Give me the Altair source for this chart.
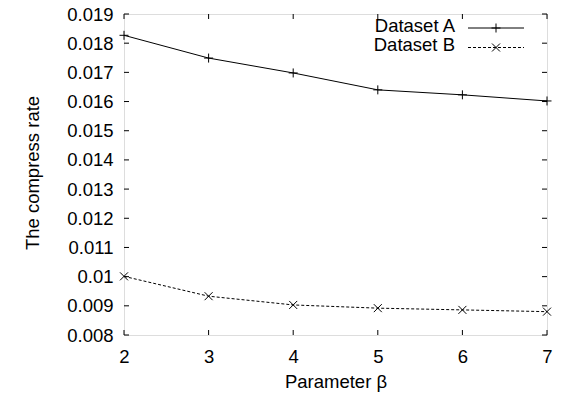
import altair as alt
import pandas as pd

# ---- data ----
beta = [2, 3, 4, 5, 6, 7]
dataset_a = [0.01827, 0.01749, 0.01698, 0.01640, 0.01623, 0.01602]
dataset_b = [0.01001, 0.00933, 0.00903, 0.00892, 0.00886, 0.00880]
series_names = ["Dataset A", "Dataset B"]
y_ticks = [0.008, 0.009, 0.010, 0.011, 0.012, 0.013, 0.014, 0.015,
           0.016, 0.017, 0.018, 0.019]
x_ticks = [2, 3, 4, 5, 6, 7]

W, H = 423, 321
FONT = "Liberation Sans"
FS = 18.5
PLUS = "M-1,0H1M0,-1V1"
CROSS = "M-1,-1L1,1M-1,1L1,-1"

df = pd.DataFrame({
    "beta": beta * 2,
    "rate": dataset_a + dataset_b,
    "series": [series_names[0]] * len(beta) + [series_names[1]] * len(beta),
})
df_a = df[df.series == series_names[0]]
df_b = df[df.series == series_names[1]]

xscale = alt.Scale(domain=[2, 7], nice=False, zero=False)
yscale = alt.Scale(domain=[0.008, 0.019], nice=False, zero=False)

xaxis = alt.Axis(values=x_ticks, format="d", title="Parameter β",
                 grid=False, ticks=False, tickSize=0, domain=False,
                 labelPadding=27, labelBaseline="alphabetic",
                 labelFontSize=FS, labelFont=FONT, labelOverlap=False,
                 labelColor="black", titleFontSize=FS, titleFont=FONT,
                 titleFontWeight="normal", titleColor="black",
                 titleX=W / 2, titleY=52, titleBaseline="alphabetic",
                 labelFlush=False)
yaxis = alt.Axis(values=y_ticks, format=".3~f", title="The compress rate",
                 grid=False, ticks=False, tickSize=0, domain=False,
                 labelPadding=11, labelFontSize=FS, labelFont=FONT,
                 labelOverlap=False, labelBound=False,
                 labelColor="black", titleFontSize=FS, titleFont=FONT,
                 titleFontWeight="normal", titleColor="black",
                 titleX=-92, titleY=H / 2 - 2, titleBaseline="middle",
                 titleAngle=-90, labelFlush=False)

xenc = alt.X("beta:Q", scale=xscale, axis=xaxis)
yenc = alt.Y("rate:Q", scale=yscale, axis=yaxis)

line_a = alt.Chart(df_a).mark_line(color="black", strokeWidth=1).encode(x=xenc, y=yenc)
line_b = alt.Chart(df_b).mark_line(color="black", strokeWidth=1, strokeDash=[3, 2]).encode(
    x=xenc, y=yenc)
pts_a = alt.Chart(df_a).mark_point(shape=PLUS, size=81, filled=False, stroke="black",
                                   strokeWidth=1, opacity=1).encode(x=xenc, y=yenc)
pts_b = alt.Chart(df_b).mark_point(shape=CROSS, size=64, filled=False, stroke="black",
                                   strokeWidth=1, opacity=1).encode(x=xenc, y=yenc)

# inward mirrored ticks (same fields/axes so the shared axes merge cleanly)
yt = pd.DataFrame({"rate": y_ticks})
xt = pd.DataFrame({"beta": x_ticks})
TL = 5
tick_layers = [
    alt.Chart(yt).mark_rule(color="black", strokeWidth=1).encode(
        y=yenc, x=alt.value(0), x2=alt.value(TL)),
    alt.Chart(yt).mark_rule(color="black", strokeWidth=1).encode(
        y=yenc, x=alt.value(W), x2=alt.value(W - TL)),
    alt.Chart(xt).mark_rule(color="black", strokeWidth=1).encode(
        x=xenc, y=alt.value(H), y2=alt.value(H - TL)),
    alt.Chart(xt).mark_rule(color="black", strokeWidth=1).encode(
        x=xenc, y=alt.value(0), y2=alt.value(TL)),
]

# legend (top right, inside the frame)
legend_layers = []
text_rows = [12, 31]
sample_rows = [14, 33.5]
shapes = [(PLUS, 81, None), (CROSS, 64, [3, 2])]
for name, ty, sy, (shp, sz, dash) in zip(series_names, text_rows, sample_rows, shapes):
    ld = pd.DataFrame({"label": [name]})
    legend_layers.append(alt.Chart(ld).mark_text(
        align="right", baseline="middle", font=FONT, fontSize=FS, color="black").encode(
        x=alt.value(331), y=alt.value(ty), text="label:N"))
    rule_kw = dict(color="black", strokeWidth=1)
    if dash:
        rule_kw["strokeDash"] = dash
    legend_layers.append(alt.Chart(ld).mark_rule(**rule_kw).encode(
        x=alt.value(344), x2=alt.value(400), y=alt.value(sy)))
    legend_layers.append(alt.Chart(ld).mark_point(
        shape=shp, size=sz, filled=False, stroke="black", strokeWidth=1, opacity=1).encode(
        x=alt.value(372), y=alt.value(sy)))

chart = alt.layer(line_a, line_b, pts_a, pts_b, *tick_layers, *legend_layers).properties(
    width=W, height=H,
    autosize=alt.AutoSizeParams(type="none"),
    padding={"left": 116, "top": 6, "right": 16, "bottom": 58},
).configure_view(stroke="black", strokeWidth=1).configure(background="white")

chart.save("out.html", embed_options={"renderer": "svg", "actions": False})
